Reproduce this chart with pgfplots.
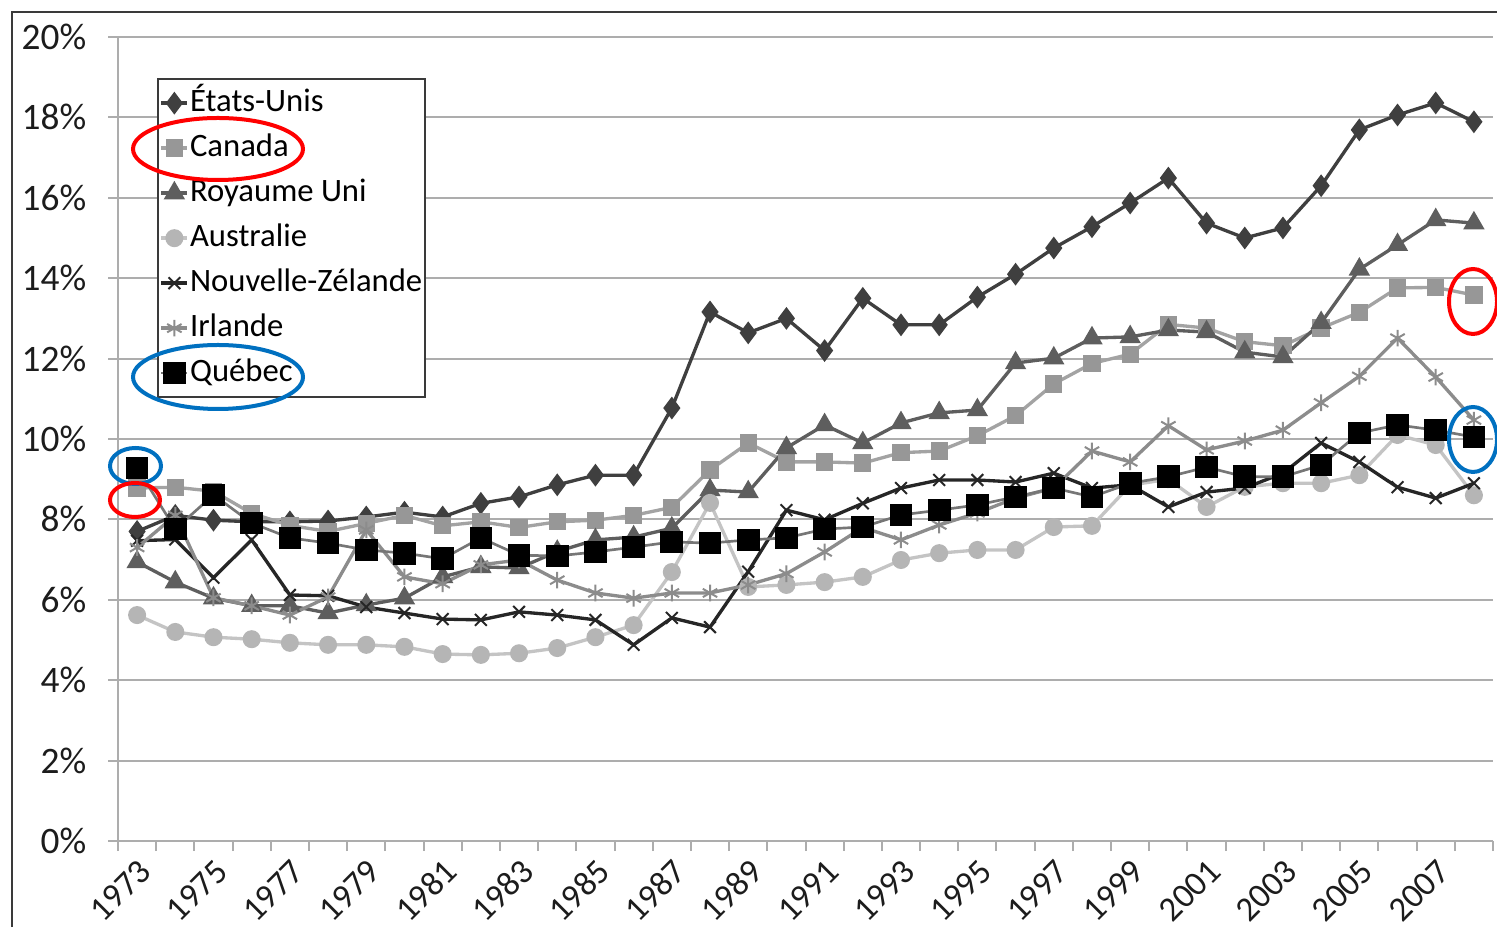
\documentclass[border=0pt]{standalone}
\usepackage{fontspec}
\setmainfont{Carlito}
\usepackage{pgfplots}
\usepackage{pgfplotstable}
\pgfplotsset{compat=1.18}
\definecolor{cUS}{HTML}{3F3F3F}
\definecolor{cCA}{HTML}{A3A3A3}
\definecolor{cCAm}{HTML}{979797}
\definecolor{cUK}{HTML}{5E5E5E}
\definecolor{cAU}{HTML}{C4C4C4}
\definecolor{cAUm}{HTML}{B5B5B5}
\definecolor{cNZ}{HTML}{262626}
\definecolor{cIE}{HTML}{8C8C8C}
\definecolor{cQCl}{HTML}{767676}
\definecolor{cgrid}{HTML}{ADADAD}
\definecolor{cframe}{HTML}{3A3A3A}
\definecolor{ctext}{HTML}{1C1C1C}
\definecolor{aRed}{HTML}{FF0000}
\definecolor{aBlue}{HTML}{0070C0}

\pgfplotstableread{
year us ca uk au nz ie qc
1973 7.70 8.78 6.94 5.62 7.47 7.30 9.28
1974 8.10 8.80 6.44 5.20 7.50 8.10 7.76
1975 7.98 8.70 6.04 5.07 6.55 6.05 8.61
1976 7.94 8.15 5.85 5.02 7.49 5.85 7.91
1977 7.94 7.85 5.85 4.93 6.12 5.62 7.54
1978 7.96 7.70 5.67 4.88 6.10 6.07 7.41
1979 8.06 7.90 5.87 4.88 5.82 7.74 7.24
1980 8.18 8.10 6.04 4.83 5.67 6.57 7.16
1981 8.06 7.84 6.57 4.65 5.52 6.40 7.02
1982 8.40 7.94 6.82 4.63 5.50 6.87 7.54
1983 8.56 7.80 6.79 4.67 5.70 6.99 7.11
1984 8.86 7.94 7.20 4.80 5.62 6.49 7.09
1985 9.10 7.98 7.49 5.07 5.50 6.17 7.19
1986 9.10 8.10 7.56 5.37 4.88 6.04 7.31
1987 10.77 8.30 7.78 6.69 5.55 6.17 7.44
1988 13.16 9.23 8.73 8.41 5.32 6.17 7.41
1989 12.64 9.90 8.68 6.32 6.70 6.37 7.49
1990 13.00 9.43 9.78 6.37 8.23 6.65 7.54
1991 12.20 9.43 10.35 6.44 7.99 7.19 7.76
1992 13.50 9.40 9.90 6.57 8.40 7.80 7.81
1993 12.84 9.66 10.40 6.99 8.78 7.49 8.11
1994 12.84 9.70 10.65 7.16 8.98 7.86 8.23
1995 13.53 10.08 10.72 7.24 8.98 8.16 8.36
1996 14.10 10.58 11.89 7.24 8.93 8.53 8.56
1997 14.75 11.37 12.01 7.81 9.15 8.78 8.78
1998 15.28 11.88 12.51 7.84 8.78 9.70 8.56
1999 15.87 12.11 12.54 8.85 8.86 9.43 8.90
2000 16.49 12.85 12.71 9.00 8.31 10.33 9.06
2001 15.37 12.76 12.66 8.31 8.68 9.73 9.30
2002 15.00 12.42 12.16 8.81 8.78 9.95 9.06
2003 15.25 12.32 12.04 8.90 9.15 10.22 9.06
2004 16.30 12.76 12.89 8.90 9.90 10.90 9.35
2005 17.69 13.15 14.22 9.10 9.43 11.56 10.15
2006 18.06 13.76 14.83 10.10 8.80 12.51 10.35
2007 18.36 13.77 15.45 9.85 8.53 11.54 10.22
2008 17.89 13.58 15.37 8.60 8.90 10.47 10.05
}\data

\begin{document}
\begin{tikzpicture}
\useasboundingbox (0,0) rectangle (449.1pt,278.1pt);
\draw[cframe, line width=0.7pt] (3.6pt,0pt) -- (3.6pt,274.5pt) -- (449.1pt,274.5pt);
\begin{axis}[
  at={(35.4pt,25.8pt)}, anchor=south west,
  scale only axis, width=412.5pt, height=241.2pt,
  xmin=1972.5, xmax=2008.5, ymin=0, ymax=20,
  axis x line*=bottom, axis y line*=left,
  axis line style={draw=cgrid, line width=0.6pt, -},
  tick align=outside,
  ytick={0,2,...,20},
  yticklabel={\pgfmathprintnumber{\tick}\%},
  yticklabel style={xshift=-3pt},
  /pgf/number format/assume math mode=true,
  ymajorgrids, grid style={cgrid, line width=0.6pt},
  ytick style={draw=cgrid, line width=0.6pt},
  major tick length=3pt,
  xtick={1972.5,1973.5,...,2008.5},
  xticklabels={},
  xtick style={draw=cgrid, line width=0.6pt},
  extra x ticks={1973,1975,...,2007},
  extra x tick labels={1973,1975,1977,1979,1981,1983,1985,1987,1989,1991,1993,1995,1997,1999,2001,2003,2005,2007},
  extra x tick style={major tick length=0pt, xticklabel style={rotate=45, anchor=east, xshift=0pt, yshift=-7pt, font=\fontsize{10.4}{12}\selectfont}},
  tick label style={font=\fontsize{11.2}{12}\selectfont, text=ctext},
  legend cell align=left,
  legend style={at={(0.0284,0.949)}, anchor=north west, draw=cframe, line width=0.6pt,
    font=\fontsize{9.8}{11}\selectfont, text=black, inner sep=0.5pt, row sep=0pt,
    nodes={inner xsep=0.3pt, inner ysep=1.8pt, text height=7.4pt, text depth=2.5pt}},
  legend image code/.code={\draw[mark repeat=2,mark phase=2] plot coordinates {(0pt,0pt)(3.9pt,0pt)(7.8pt,0pt)};},
]
\addplot[cUS, line width=1pt, mark=diamond*, mark size=2.6pt, mark options={solid, fill=cUS, draw=cUS}] table[x=year,y=us]{\data};
\addlegendentry{États-Unis}
\addplot[cCA, line width=1pt, mark=square*, mark size=2.1pt, mark options={solid, fill=cCAm, draw=cCAm}] table[x=year,y=ca]{\data};
\addlegendentry{Canada}
\addplot[cUK, line width=1pt, mark=triangle*, mark size=2.7pt, mark options={solid, fill=cUK, draw=cUK}] table[x=year,y=uk]{\data};
\addlegendentry{Royaume Uni}
\addplot[cAU, line width=1pt, mark=*, mark size=2.2pt, mark options={solid, fill=cAUm, draw=cAUm}] table[x=year,y=au]{\data};
\addlegendentry{Australie}
\addplot[cNZ, line width=1pt, mark=x, mark size=2.5pt, mark options={solid, draw=cNZ, line width=0.6pt}] table[x=year,y=nz]{\data};
\addlegendentry{Nouvelle-Zélande}
\addplot[cIE, line width=1pt, mark=asterisk, mark size=2.5pt, mark options={solid, draw=cIE, line width=0.6pt}] table[x=year,y=ie]{\data};
\addlegendentry{Irlande}
\addplot[cQCl, line width=0.8pt, mark=square*, mark size=3pt, mark options={solid, fill=black, draw=black}] table[x=year,y=qc]{\data};
\addlegendentry{Québec}
\end{axis}
\draw[aRed, line width=1.2pt] (65.4pt,233.4pt) ellipse [x radius=25.5pt, y radius=9.3pt];
\draw[aBlue, line width=1.2pt] (65.4pt,165pt) ellipse [x radius=25.5pt, y radius=9.6pt];
\draw[aBlue, line width=1.2pt] (40.65pt,138.3pt) ellipse [x radius=7.65pt, y radius=5.4pt];
\draw[aRed, line width=1.2pt] (40.5pt,128.1pt) ellipse [x radius=7.5pt, y radius=5.1pt];
\draw[aRed, line width=1.2pt] (441.9pt,187.65pt) ellipse [x radius=7.2pt, y radius=9.75pt];
\draw[aBlue, line width=1.2pt] (441.9pt,146.25pt) ellipse [x radius=7.2pt, y radius=9.75pt];
\end{tikzpicture}
\end{document}
